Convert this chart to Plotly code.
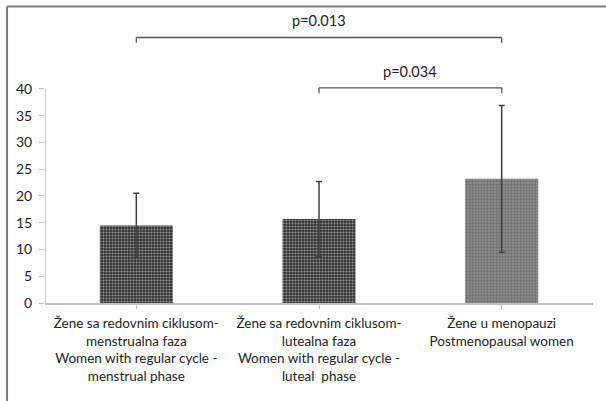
import plotly.graph_objects as go

categories = [
    "Žene sa redovnim ciklusom-<br>menstrualna faza<br>Women with regular cycle -<br>menstrual phase",
    "Žene sa redovnim ciklusom-<br>lutealna faza<br>Women with regular cycle -<br>luteal  phase",
    "Žene u menopauzi<br>Postmenopausal women",
]
means = [14.5, 15.7, 23.2]
sds = [6.0, 7.0, 13.7]
y_ticks = [0, 5, 10, 15, 20, 25, 30, 35, 40]

# significance brackets: (from category index, to category index, y level, label)
brackets = [
    (0, 2, 49.6, "p=0.013"),
    (1, 2, 40.2, "p=0.034"),
]

bar_colors = ["#333333", "#333333", "#8a8a8a"]
dot_colors = ["#d0d0d0", "#d0d0d0", "#ececec"]

fig = go.Figure()
fig.add_trace(go.Bar(
    x=[0, 1, 2],
    y=means,
    width=0.4,
    marker=dict(
        color=bar_colors,
        line=dict(width=0),
        pattern=dict(shape=".", fillmode="overlay", fgcolor=dot_colors,
                     size=3, solidity=0.35),
    ),
    error_y=dict(type="data", array=sds, visible=True, color="#404040",
                 thickness=1.5, width=3),
    showlegend=False,
))

font_family = "Lato, 'Open Sans', sans-serif"
y_max = 51.0

shapes = []
annotations = []
# y axis line only from 0 to 40
shapes.append(dict(type="line", xref="x", yref="y", x0=-0.5, x1=-0.5,
                   y0=0, y1=y_ticks[-1], line=dict(color="#bfbfbf", width=1.5)))
tick_len = 1.0
for a, b, lvl, label in brackets:
    shapes.append(dict(type="line", xref="x", yref="y", x0=a, x1=b, y0=lvl, y1=lvl,
                       line=dict(color="#555555", width=1.3)))
    for xx in (a, b):
        shapes.append(dict(type="line", xref="x", yref="y", x0=xx, x1=xx,
                           y0=lvl, y1=lvl - tick_len,
                           line=dict(color="#555555", width=1.3)))
    annotations.append(dict(x=(a + b) / 2, y=lvl, xref="x", yref="y", text=label,
                            showarrow=False, yanchor="bottom", yshift=6,
                            font=dict(size=14.5, color="#222222", family=font_family)))

# outer frame lines (top and left)
shapes.append(dict(type="line", xref="paper", yref="paper", x0=-0.0693, x1=1.05,
                   y0=1.086, y1=1.086, line=dict(color="#7f7f7f", width=2)))
shapes.append(dict(type="line", xref="paper", yref="paper", x0=-0.0693, x1=-0.0693,
                   y0=1.086, y1=-0.4, line=dict(color="#7f7f7f", width=2)))

fig.update_layout(
    width=606, height=401,
    margin=dict(l=45, r=13, t=30, b=98),
    paper_bgcolor="white", plot_bgcolor="white",
    font=dict(family=font_family, size=14, color="#222222"),
    shapes=shapes, annotations=annotations,
    bargap=0.6,
)
fig.update_xaxes(
    range=[-0.5, 2.5], tickmode="array", tickvals=[0, 1, 2], ticktext=categories,
    tickson="boundaries", ticks="outside", ticklen=4, tickcolor="#bfbfbf",
    showline=True, linecolor="#bfbfbf", linewidth=1.5, showgrid=False,
    zeroline=False, tickfont=dict(size=13.5, color="#222222"),
    ticklabelstandoff=3, automargin=False,
)
fig.update_yaxes(
    range=[0, y_max], tickmode="array", tickvals=y_ticks,
    ticks="outside", ticklen=5, tickcolor="#bfbfbf", showline=False,
    showgrid=False, zeroline=False, tickfont=dict(size=14, color="#222222"),
    ticklabelstandoff=4, automargin=False,
)

fig.write_html("out.html", config={"displayModeBar": False},
               post_script="document.body.style.margin='0';")
